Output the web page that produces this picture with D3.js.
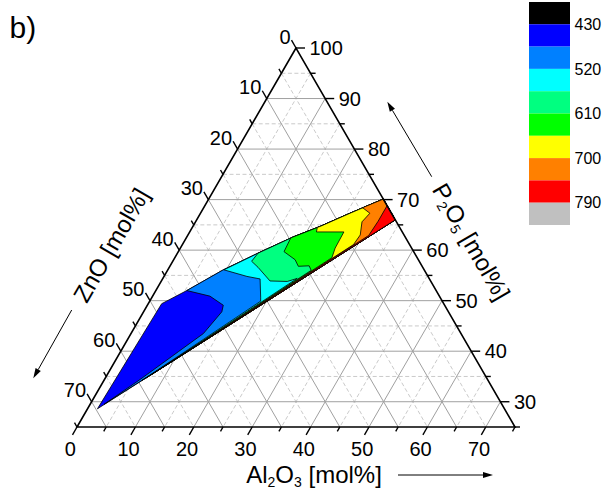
<!DOCTYPE html>
<html>
<head>
<meta charset="utf-8">
<script src="https://cdn.jsdelivr.net/npm/d3@7"></script>
<style>
  body { margin: 0; background: #fff; }
  svg { display: block; }
  text { font-family: "Liberation Sans", Arial, sans-serif; fill: #000; }
</style>
</head>
<body>
<svg id="chart" width="603" height="490"></svg>
<script>
// Ternary Al2O3 - ZnO - P2O5 diagram restricted to P2O5 >= 25 mol%.
// Every composition is written as [Al2O3, ZnO]; P2O5 = 100 - Al2O3 - ZnO.

// axis ticks (mol%)
const baseTicks  = [0, 10, 20, 30, 40, 50, 60, 70];        // Al2O3 and ZnO
const baseMinor  = [5, 15, 25, 35, 45, 55, 65, 75];
const p2o5Ticks  = [30, 40, 50, 60, 70, 80, 90, 100];
const p2o5Minor  = [25, 35, 45, 55, 65, 75, 85, 95];

// contour levels and band colours (lowest band first)
const levels      = [430, 475, 520, 565, 610, 655, 700, 745, 790];
const levelLabels = [430, 520, 610, 700, 790];
const bandColors  = ["#000000", "#0000ff", "#0080ff", "#00ffff", "#00ff80",
                     "#00ff00", "#ffff00", "#ff8000", "#ff0000", "#c0c0c0"];

// outline of the measured composition field
const fieldTip   = [1.7, 69.7];
const fieldUpper = [[2.3, 48.3], [5.3, 42.7], [9.5, 34.4], [13.8, 26.8],
                    [18.2, 19.2], [21.8, 13.5], [25.6, 7.1], [29.9, 0]];
const fieldEnd   = [34.0, 0];

// isolines, each running from the upper boundary into the field and out along the lower boundary
const iso475 = [[5.3, 42.7], [9.8, 39.3], [13.0, 37.9], [13.4, 38.8], [12.4, 44.1],
                [9.9, 50.2], [6.1, 59.5], [2.4, 68.1]];
const iso520 = [[9.6, 34.3], [14.2, 31.0], [16.7, 29.0], [18.6, 30.7], [19.0, 31.1], [6.5, 59.3]];
const iso565 = [[13.8, 26.8], [13.5, 28.7], [15.2, 28.2], [18.6, 27.5], [21.6, 24.6],
                [23.0, 22.6], [7.0, 58.3]];
const iso610 = [[17.9, 19.7], [18.1, 22.2], [20.8, 21.1], [22.0, 21.2], [23.8, 19.3],
                [24.6, 19.4], [7.5, 57.2]];
const iso655 = [[21.4, 14.1], [21.7, 14.7], [26.4, 10.0], [26.5, 13.1], [26.9, 14.6], [8.0, 56.1]];
const iso700 = [[27.2, 4.4], [29.0, 3.7], [28.5, 5.9], [29.5, 7.5], [29.3, 9.6], [8.5, 55.0]];
const iso745 = [[31.2, 0], [31.2, 3.1], [31.0, 6.1], [9.0, 53.9]];

const isolines = [
  { level: 475, pts: iso475 }, { level: 520, pts: iso520 }, { level: 565, pts: iso565 },
  { level: 610, pts: iso610 }, { level: 655, pts: iso655 }, { level: 700, pts: iso700 },
  { level: 745, pts: iso745 }
];

// ---------- projection ----------
const span = 75; // Al2O3 + ZnO ranges over 0..75
const xDiff = d3.scaleLinear().domain([-span, span]).range([77, 515]); // Al2O3 - ZnO
const ySum  = d3.scaleLinear().domain([0, span]).range([48, 427]);     // Al2O3 + ZnO
const proj = ([al, zn]) => [xDiff(al - zn), ySum(al + zn)];

const svg = d3.select("#chart");
const lineGen = d3.line();
const closed = pts => lineGen(pts.map(proj)) + "Z";

// ---------- grid ----------
const gGrid = svg.append("g");
function gridSegments(values) {
  const segs = [];
  values.forEach(v => {
    segs.push([[v, 0], [v, span - v]]);          // constant Al2O3
    segs.push([[0, v], [span - v, v]]);          // constant ZnO
  });
  return segs;
}
function p2o5Segments(values) {
  return values.map(p => { const s = 100 - p; return [[0, s], [s, 0]]; });
}
const minorSegs = gridSegments(baseMinor.filter(v => v < span))
  .concat(p2o5Segments(p2o5Minor.filter(p => p > 100 - span)));
const majorSegs = gridSegments(baseTicks.filter(v => v > 0))
  .concat(p2o5Segments(p2o5Ticks.filter(p => p < 100)));

gGrid.selectAll("path.minor").data(minorSegs).join("path")
  .attr("class", "minor")
  .attr("d", d => lineGen(d.map(proj)))
  .attr("stroke", "#c4c4c4").attr("stroke-width", 0.9)
  .attr("stroke-dasharray", "4,2.5").attr("fill", "none");
gGrid.selectAll("path.major").data(majorSegs).join("path")
  .attr("class", "major")
  .attr("d", d => lineGen(d.map(proj)))
  .attr("stroke", "#a0a0a0").attr("stroke-width", 1).attr("fill", "none");

// ---------- filled contours ----------
const gFill = svg.append("g");
const upperChain = [fieldEnd].concat(fieldUpper.slice().reverse());
function regionAbove(pts) {
  const startAl = pts[0][0];
  return pts.concat(upperChain.filter(p => p[0] > startAl + 1e-6));
}
const fillLayers = [{ color: bandColors[1], pts: [fieldTip].concat(fieldUpper, [fieldEnd]) }]
  .concat(isolines.map(d => ({
    color: bandColors[levels.indexOf(d.level) + 1],
    pts: regionAbove(d.pts)
  })));

gFill.selectAll("path").data(fillLayers).join("path")
  .attr("d", d => closed(d.pts))
  .attr("fill", d => d.color)
  .attr("stroke", "#000").attr("stroke-width", 0.8)
  .attr("stroke-linejoin", "round");

// ---------- axes ----------
const gAxis = svg.append("g");
const corners = [[0, 0], [0, span], [span, 0]];
gAxis.append("path").attr("d", closed(corners))
  .attr("fill", "none").attr("stroke", "#000").attr("stroke-width", 1.6)
  .attr("stroke-linejoin", "miter");

const dirBottom = [-0.5, 0.866], dirLeft = [-0.5, -0.866], dirRight = [1, 0];
const tickSpecs = [];
baseTicks.forEach(v => tickSpecs.push({ at: proj([v, span - v]), dir: dirBottom, len: 9 }));
baseMinor.forEach(v => tickSpecs.push({ at: proj([v, span - v]), dir: dirBottom, len: 5 }));
baseTicks.forEach(v => tickSpecs.push({ at: proj([0, v]), dir: dirLeft, len: 9 }));
baseMinor.forEach(v => tickSpecs.push({ at: proj([0, v]), dir: dirLeft, len: 5 }));
p2o5Ticks.forEach(p => tickSpecs.push({ at: proj([100 - p, 0]), dir: dirRight, len: 9 }));
p2o5Minor.forEach(p => tickSpecs.push({ at: proj([100 - p, 0]), dir: dirRight, len: 5 }));

gAxis.selectAll("line.tick").data(tickSpecs).join("line")
  .attr("class", "tick")
  .attr("x1", d => d.at[0]).attr("y1", d => d.at[1])
  .attr("x2", d => d.at[0] + d.dir[0] * d.len).attr("y2", d => d.at[1] + d.dir[1] * d.len)
  .attr("stroke", "#000").attr("stroke-width", 1.4);

const tickFont = 20;
// Al2O3 labels
gAxis.selectAll("text.al").data(baseTicks).join("text")
  .attr("class", "al")
  .attr("x", v => proj([v, span - v])[0] + dirBottom[0] * 9 - 2.3)
  .attr("y", 456)
  .attr("text-anchor", "middle").attr("font-size", tickFont)
  .text(v => v);
// ZnO labels
gAxis.selectAll("text.zn").data(baseTicks).join("text")
  .attr("class", "zn")
  .attr("x", v => proj([0, v])[0] + dirLeft[0] * 9 - 1)
  .attr("y", v => proj([0, v])[1] + dirLeft[1] * 9 + 3.5)
  .attr("text-anchor", "end").attr("font-size", tickFont)
  .text(v => v);
// P2O5 labels
gAxis.selectAll("text.p").data(p2o5Ticks).join("text")
  .attr("class", "p")
  .attr("x", p => proj([100 - p, 0])[0] + 9 + 4.5)
  .attr("y", p => proj([100 - p, 0])[1] + 7)
  .attr("font-size", tickFont)
  .text(p => p);

// ---------- axis titles ----------
const titleFont = 24, subFont = 14, subShift = 4;
// builds a chemical formula with subscripts, returning to the baseline after each subscript
function formula(sel, parts) {
  let shifted = false;
  parts.forEach(([txt, sub]) => {
    const dy = sub ? subShift : (shifted ? -subShift : 0);
    sel.append("tspan")
      .attr("font-size", sub ? subFont : titleFont)
      .attr("dy", dy)
      .text(txt);
    shifted = !!sub;
  });
}

const tBottom = svg.append("text").attr("x", 314).attr("y", 482.5)
  .attr("text-anchor", "middle").attr("font-size", titleFont);
formula(tBottom, [["Al", 0], ["2", 1], ["O", 0], ["3", 1], [" [mol%]", 0]]);

const tRight = svg.append("text")
  .attr("transform", "translate(471.5,241.5) rotate(60)")
  .attr("y", 8.6).attr("text-anchor", "middle").attr("font-size", titleFont);
formula(tRight, [["P", 0], ["2", 1], ["O", 0], ["5", 1], [" [mol%]", 0]]);

svg.append("text")
  .attr("transform", "translate(111,245) rotate(-60)")
  .attr("y", 8.6).attr("text-anchor", "middle").attr("font-size", titleFont)
  .text("ZnO [mol%]");

// direction arrows next to the titles
const arrows = [
  { from: [398, 475], to: [493, 475] },
  { from: [431.7, 176.7], to: [387.3, 101.7] },
  { from: [71.7, 310], to: [33.3, 378.3] }
];
arrows.forEach(a => {
  const dx = a.to[0] - a.from[0], dy = a.to[1] - a.from[1];
  const L = Math.hypot(dx, dy), ux = dx / L, uy = dy / L;
  const hl = 10, hw = 3;
  const bx = a.to[0] - ux * hl, by = a.to[1] - uy * hl;
  svg.append("line")
    .attr("x1", a.from[0]).attr("y1", a.from[1]).attr("x2", bx).attr("y2", by)
    .attr("stroke", "#000").attr("stroke-width", 1);
  svg.append("path")
    .attr("d", `M${a.to[0]},${a.to[1]}L${bx - uy * hw},${by + ux * hw}L${bx + uy * hw},${by - ux * hw}Z`)
    .attr("fill", "#000");
});

// panel letter
svg.append("text").attr("x", 9.5).attr("y", 38).attr("font-size", 30).text("b)");

// ---------- colour scale ----------
const barY = d3.scaleLinear().domain([0, bandColors.length]).range([2, 225]);
const gBar = svg.append("g");
gBar.selectAll("rect").data(bandColors).join("rect")
  .attr("x", 529).attr("width", 41)
  .attr("y", (c, i) => barY(i)).attr("height", (c, i) => barY(i + 1) - barY(i))
  .attr("fill", c => c);
gBar.selectAll("text").data(levelLabels).join("text")
  .attr("x", 574.5)
  .attr("y", v => barY(levels.indexOf(v) + 1) + 5.6)
  .attr("font-size", 16)
  .text(v => v);
</script>
</body>
</html>
